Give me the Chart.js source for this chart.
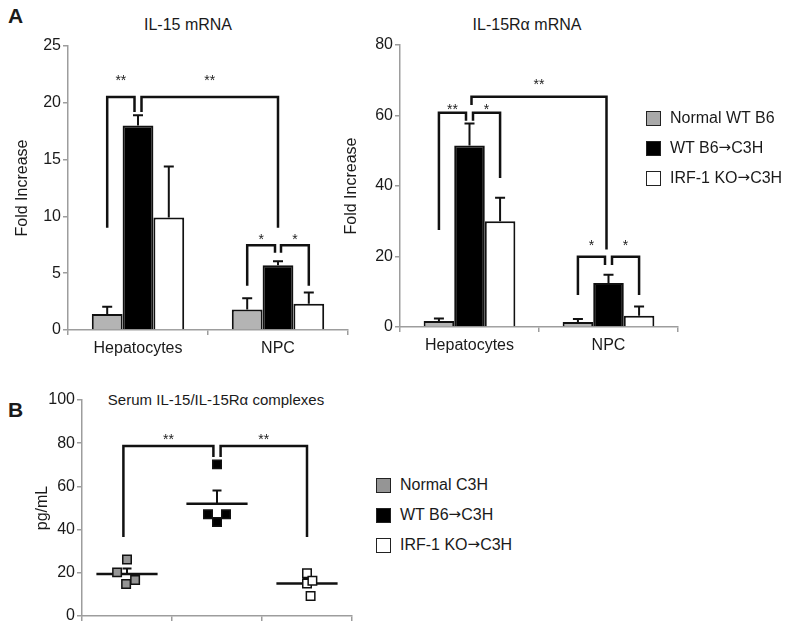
<!DOCTYPE html>
<html>
<head>
<meta charset="utf-8">
<script src="https://cdn.jsdelivr.net/npm/chart.js@4.4.0/dist/chart.umd.min.js"></script>
<style>
    body { margin: 0; background: #fff; font-family: "Liberation Sans", Arial, sans-serif; color: #1a1a1a; }
    #wrap { position: relative; width: 800px; height: 631px; overflow: hidden; }
    canvas { position: absolute; }
    .lbl { position: absolute; white-space: nowrap; }
    .panel { font-weight: bold; font-size: 21px; }
    .ttl { font-size: 16px; transform: translateX(-50%); }
    .legend { position: absolute; font-size: 16px; }
    .legend div { display: flex; align-items: center; height: 30px; white-space: pre; }
    .sw { display: inline-block; width: 13px; height: 13px; border: 1.5px solid #222; margin-right: 9px; }
    .arr { font-family: "DejaVu Sans", sans-serif; font-size: 15px; position: relative; top: -1px; }
</style>
</head>
<body>
<div id="wrap">
    <div class="lbl panel" style="left:8px;top:4px">A</div>
    <div class="lbl panel" style="left:8px;top:398px">B</div>
    <div class="lbl ttl" style="left:188px;top:16px">IL-15 mRNA</div>
    <div class="lbl ttl" style="left:527px;top:16px">IL-15Rα mRNA</div>
    <div class="lbl ttl" style="left:216px;top:391px;font-size:15px">Serum IL-15/IL-15Rα complexes</div>

    <canvas id="il15" width="360" height="340" style="left:0;top:20px"></canvas>
    <canvas id="il15ra" width="360" height="340" style="left:332px;top:20px"></canvas>
    <canvas id="serum" width="370" height="251" style="left:0;top:380px"></canvas>

    <div class="legend" id="legendA" style="left:646px;top:103px"></div>
    <div class="legend" id="legendB" style="left:376px;top:470px"></div>
</div>

<script>
// ---- data ----
const cellTypes = ['Hepatocytes', 'NPC'];
const groupsA = ['Normal WT B6', 'WT B6\u2192C3H', 'IRF-1 KO\u2192C3H'];
const groupsB = ['Normal C3H', 'WT B6\u2192C3H', 'IRF-1 KO\u2192C3H'];

// IL-15 mRNA fold increase (mean, upper error)
const il15Normal = [1.4, 1.8];
const il15Wt = [18.0, 5.7];
const il15Ko = [9.9, 2.3];
const il15NormalErr = [0.65, 1.0];
const il15WtErr = [0.9, 0.35];
const il15KoErr = [4.5, 1.0];

// IL-15Ra mRNA fold increase
const il15raNormal = [1.7, 1.4];
const il15raWt = [51.5, 12.5];
const il15raKo = [30.0, 3.2];
const il15raNormalErr = [0.7, 0.9];
const il15raWtErr = [6.2, 2.3];
const il15raKoErr = [6.7, 2.6];

// Serum IL-15/IL-15Ra complexes, pg/mL (individual mice)
const serumNormal = [26.2, 20.2, 14.8, 16.7];
const serumWt = [70.2, 47.1, 47.1, 43.5];
const serumKo = [19.8, 15.1, 16.3, 9.3];
const jitterNormal = [1.0, 0.89, 0.99, 1.09];
const jitterWt = [2.0, 1.9, 2.1, 2.0];
const jitterKo = [3.0, 3.0, 3.06, 3.04];
const serumMean = [19.5, 52.0, 15.1];
const serumSem = [2.5, 6.1, 2.2];

const axisTicksA1 = [0, 25, 5];
const axisTicksA2 = [0, 80, 20];
const axisTicksB = [0, 100, 20];

// ---- style ----
const INK = '#111';
const AXIS = '#9d9d9d';
const GRAY_BAR = '#b4b4b4';
const GRAY_DOT = '#959595';

Chart.defaults.font.family = '"Liberation Sans", Arial, sans-serif';
Chart.defaults.color = '#1a1a1a';

// brackets, stars and error bars drawn on top of the data
function makeAnnot(cfg) {
    return {
        id: 'annot',
        beforeDatasetsDraw(chart) {
            if (!cfg.means) return;
            const ctx = chart.ctx, x = chart.scales.x, y = chart.scales.y;
            ctx.save();
            ctx.strokeStyle = INK;
            cfg.means.forEach((m, i) => {
                const cx = x.getPixelForValue(i + 1);
                const half = x.getPixelForValue(i + 1 + cfg.halfWidth) - cx;
                const my = y.getPixelForValue(m);
                const ty = y.getPixelForValue(m + cfg.sem[i]);
                ctx.lineWidth = 2.5;
                ctx.beginPath();
                ctx.moveTo(cx - half, my); ctx.lineTo(cx + half, my);
                ctx.stroke();
                ctx.lineWidth = 2;
                ctx.beginPath();
                ctx.moveTo(cx, my); ctx.lineTo(cx, ty);
                ctx.moveTo(cx - 4.5, ty); ctx.lineTo(cx + 4.5, ty);
                ctx.stroke();
            });
            ctx.restore();
        },
        afterDatasetsDraw(chart) {
            const ctx = chart.ctx, y = chart.scales.y;
            ctx.save();
            ctx.strokeStyle = INK;
            ctx.lineWidth = 2;
            (cfg.errors || []).forEach((err, d) => {
                const vals = chart.data.datasets[d].data;
                chart.getDatasetMeta(d).data.forEach((el, i) => {
                    const top = y.getPixelForValue(vals[i] + err[i]);
                    ctx.beginPath();
                    ctx.moveTo(el.x, el.y); ctx.lineTo(el.x, top);
                    ctx.moveTo(el.x - 5, top); ctx.lineTo(el.x + 5, top);
                    ctx.stroke();
                });
            });
            const xOf = ref => typeof ref === 'number'
                ? chart.scales.x.getPixelForValue(ref)
                : chart.getDatasetMeta(ref[0]).data[ref[1]].x + (ref[2] || 0);
            ctx.lineWidth = 2.5;
            ctx.font = '14px "Liberation Sans", Arial, sans-serif';
            ctx.fillStyle = '#222';
            ctx.textAlign = 'center';
            ctx.textBaseline = 'middle';
            (cfg.brackets || []).forEach(b => {
                const x1 = xOf(b.from), x2 = xOf(b.to);
                const yt = y.getPixelForValue(b.top);
                ctx.beginPath();
                ctx.moveTo(x1, y.getPixelForValue(b.y1));
                ctx.lineTo(x1, yt);
                ctx.lineTo(x2, yt);
                ctx.lineTo(x2, y.getPixelForValue(b.y2));
                ctx.stroke();
                ctx.fillText(b.star, (x1 + x2) / 2, y.getPixelForValue(b.sy) + 3);
            });
            ctx.restore();
        }
    };
}

function barChart(id, series, ticks, pad, xHeight, yWidth, annot) {
    return new Chart(document.getElementById(id), {
        type: 'bar',
        data: {
            labels: cellTypes,
            datasets: series.map((s, i) => ({
                label: groupsA[i],
                data: s,
                backgroundColor: [GRAY_BAR, '#000', '#fff'][i],
                borderColor: INK,
                borderWidth: 2,
                categoryPercentage: 0.66,
                barPercentage: 1.0
            }))
        },
        options: {
            responsive: false,
            animation: false,
            layout: { padding: pad },
            plugins: { legend: { display: false }, tooltip: { enabled: false } },
            scales: {
                x: {
                    afterFit: s => { s.height = xHeight; },
                    grid: { drawOnChartArea: false, tickLength: 5, color: AXIS, lineWidth: 1.5 },
                    border: { color: AXIS, width: 1.5 },
                    ticks: { font: { size: 16 }, padding: 4 }
                },
                y: {
                    min: ticks[0], max: ticks[1],
                    afterFit: s => { s.width = yWidth; },
                    ticks: { stepSize: ticks[2], font: { size: 16 }, padding: 2 },
                    grid: { drawOnChartArea: false, tickLength: 5, color: AXIS, lineWidth: 1.5 },
                    border: { color: AXIS, width: 1.5 },
                    title: { display: true, text: 'Fold Increase', font: { size: 16 } }
                }
            }
        },
        plugins: [makeAnnot(annot)]
    });
}

barChart('il15', [il15Normal, il15Wt, il15Ko], axisTicksA1,
    { left: 9, right: 12, top: 26, bottom: 0 }, 30, 59, {
    errors: [il15NormalErr, il15WtErr, il15KoErr],
    brackets: [
        { from: [0, 0], to: [1, 0, -3.5], y1: 9.0, top: 20.5, y2: 19.2, star: '**', sy: 22.2 },
        { from: [1, 0, 3.5], to: [1, 1], y1: 19.2, top: 20.5, y2: 9.0, star: '**', sy: 22.2 },
        { from: [0, 1], to: [1, 1, -3], y1: 3.9, top: 7.45, y2: 6.8, star: '*', sy: 8.2 },
        { from: [1, 1, 3], to: [2, 1], y1: 6.8, top: 7.45, y2: 3.9, star: '*', sy: 8.2 }
    ]
});

barChart('il15ra', [il15raNormal, il15raWt, il15raKo], axisTicksA2,
    { left: 6, right: 14, top: 25, bottom: 0 }, 33, 62, {
    errors: [il15raNormalErr, il15raWtErr, il15raKoErr],
    brackets: [
        { from: [0, 0], to: [1, 0, -3.5], y1: 27.5, top: 60.8, y2: 58.5, star: '**', sy: 62.5 },
        { from: [1, 0, 3.5], to: [2, 0], y1: 58.5, top: 60.8, y2: 42.3, star: '*', sy: 62.5 },
        { from: [1, 0, 2], to: [1, 1, -2], y1: 63.0, top: 65.3, y2: 22.0, star: '**', sy: 69.6 },
        { from: [0, 1], to: [1, 1, -3.5], y1: 9.1, top: 19.9, y2: 17.6, star: '*', sy: 23.8 },
        { from: [1, 1, 3.5], to: [2, 1], y1: 17.6, top: 19.9, y2: 9.1, star: '*', sy: 23.8 }
    ]
});

const pts = (xs, ys) => ys.map((v, i) => ({ x: xs[i], y: v }));
new Chart(document.getElementById('serum'), {
    type: 'scatter',
    data: {
        datasets: [
            { label: groupsB[0], data: pts(jitterNormal, serumNormal), backgroundColor: GRAY_DOT },
            { label: groupsB[1], data: pts(jitterWt, serumWt), backgroundColor: '#000' },
            { label: groupsB[2], data: pts(jitterKo, serumKo), backgroundColor: '#fff' }
        ].map(d => Object.assign(d, { pointStyle: 'rect', pointRadius: 6, borderColor: INK, borderWidth: 1.5 }))
    },
    options: {
        responsive: false,
        animation: false,
        layout: { padding: { left: 29, right: 18, top: 20, bottom: 0 } },
        plugins: { legend: { display: false }, tooltip: { enabled: false } },
        scales: {
            x: {
                type: 'linear', min: 0.5, max: 3.5,
                afterBuildTicks: s => { s.ticks = [0.5, 1.5, 2.5, 3.5].map(v => ({ value: v })); },
                afterFit: s => { s.height = 15; },
                ticks: { display: false },
                grid: { drawOnChartArea: false, tickLength: 5, color: AXIS, lineWidth: 1.5 },
                border: { color: AXIS, width: 1.5 }
            },
            y: {
                min: axisTicksB[0], max: axisTicksB[1],
                afterFit: s => { s.width = 53; },
                ticks: { stepSize: axisTicksB[2], font: { size: 16 }, padding: 2 },
                grid: { drawOnChartArea: false, tickLength: 5, color: AXIS, lineWidth: 1.5 },
                border: { color: AXIS, width: 1.5 },
                title: { display: true, text: 'pg/mL', font: { size: 16 } }
            }
        }
    },
    plugins: [makeAnnot({
        means: serumMean, sem: serumSem, halfWidth: 0.34,
        brackets: [
            { from: 0.96, to: 1.96, y1: 36.6, top: 78.7, y2: 73.6, star: '**', sy: 82.9 },
            { from: 2.04, to: 3.0, y1: 73.6, top: 78.7, y2: 36.6, star: '**', sy: 82.9 }
        ]
    })]
});

// legends
function legend(id, names, fills) {
    document.getElementById(id).innerHTML = names.map((n, i) =>
        `<div><span class="sw" style="background:${fills[i]}"></span>` +
        n.replace('\u2192', '<span class="arr">\u2192</span>') + '</div>').join('');
}
legend('legendA', groupsA, ['#a9a9a9', '#000', '#fff']);
legend('legendB', groupsB, [GRAY_DOT, '#000', '#fff']);
</script>
</body>
</html>
